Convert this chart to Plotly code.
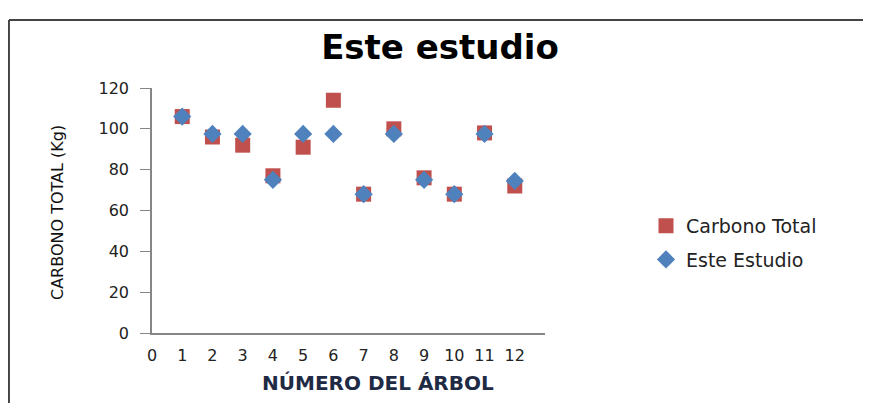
import plotly.graph_objects as go

arbol = [1, 2, 3, 4, 5, 6, 7, 8, 9, 10, 11, 12]
carbono_total = [106, 96, 92, 77, 91, 114, 68, 100, 76, 68, 98, 72]
este_estudio = [106, 97.5, 97.5, 75, 97.5, 97.5, 68, 97.5, 75, 68, 97.5, 74.5]
x_ticks = list(range(0, 13))
y_ticks = [0, 20, 40, 60, 80, 100, 120]

font_name = "DejaVu Sans"
axis_grey = "#868686"

fig = go.Figure()
fig.add_trace(
    go.Scatter(
        x=arbol,
        y=carbono_total,
        name="Carbono Total",
        mode="markers",
        marker=dict(symbol="square", size=15, color="#C0504D"),
        legendgroup="a",
    )
)
fig.add_trace(
    go.Scatter(
        x=arbol,
        y=este_estudio,
        name="Este Estudio",
        mode="markers",
        marker=dict(symbol="diamond", size=14, color="#4F81BD"),
        legendgroup="b",
    )
)

fig.update_xaxes(
    range=[0, 13],
    tickvals=x_ticks,
    ticktext=[str(v) for v in x_ticks],
    showline=True,
    linecolor=axis_grey,
    linewidth=1.5,
    showgrid=False,
    zeroline=False,
    ticks="",
    ticklabelstandoff=7,
    tickfont=dict(family=font_name, size=16, color="#222222"),
)
fig.update_yaxes(
    range=[0, 120],
    tickvals=y_ticks,
    showline=True,
    linecolor=axis_grey,
    linewidth=1.5,
    showgrid=False,
    zeroline=False,
    ticks="outside",
    ticklen=10,
    tickcolor=axis_grey,
    ticklabelstandoff=8,
    tickfont=dict(family=font_name, size=16, color="#222222"),
)

fig.add_annotation(
    text="CARBONO TOTAL (Kg)",
    xref="paper",
    yref="paper",
    x=-0.239,
    y=0.49,
    xanchor="center",
    yanchor="middle",
    textangle=-90,
    showarrow=False,
    font=dict(family=font_name, size=16, color="#111111"),
)
fig.add_annotation(
    text="<b>NÚMERO DEL ÁRBOL</b>",
    xref="paper",
    yref="paper",
    x=0.575,
    y=-0.204,
    xanchor="center",
    yanchor="middle",
    showarrow=False,
    font=dict(family=font_name, size=20, color="#1F2A44"),
)

# frame lines of the chart area (top and left edges)
fig.add_shape(
    type="line", xref="paper", yref="paper",
    x0=-0.364, x1=1.85, y0=1.2776, y1=1.2776,
    line=dict(color="#444444", width=2),
)
fig.add_shape(
    type="line", xref="paper", yref="paper",
    x0=-0.364, x1=-0.364, y0=1.2776, y1=-0.3,
    line=dict(color="#444444", width=2),
)

# page body adds 8px, so margins are shifted to keep the plot area in place
fig.update_layout(
    width=871,
    height=403,
    margin=dict(l=144, r=334, t=80, b=78),
    paper_bgcolor="white",
    plot_bgcolor="white",
    title=dict(
        text="<b>Este estudio</b>",
        x=432 / 871,
        y=1 - 39 / 403,
        xanchor="center",
        yanchor="middle",
        font=dict(family=font_name, size=34, color="black"),
    ),
    legend=dict(
        x=1.257,
        y=0.515,
        xanchor="left",
        yanchor="top",
        traceorder="grouped",
        tracegroupgap=6,
        font=dict(family=font_name, size=19, color="#222222"),
    ),
    showlegend=True,
)

fig.write_html("out.html")
